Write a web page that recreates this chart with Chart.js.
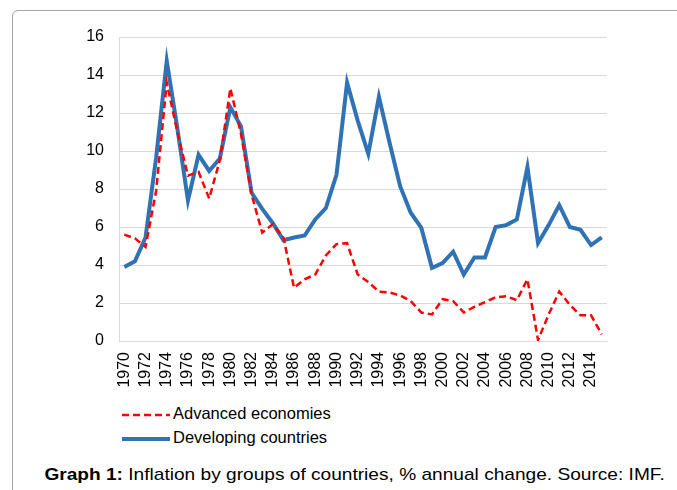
<!DOCTYPE html>
<html>
<head>
<meta charset="utf-8">
<script src="https://cdn.jsdelivr.net/npm/chart.js@4"></script>
<style>
  body { margin: 0; background: #fff; font-family: "Liberation Sans", Arial, sans-serif; }
  #wrap { position: relative; width: 677px; height: 490px; overflow: hidden; }
  #box { position: absolute; left: 12px; top: 10px; width: 700px; height: 520px;
         border: 1px solid #a6a6a6; border-radius: 6px; }
  #chart { position: absolute; left: 0; top: 0; }
  .legend { position: absolute; left: 122px; font-size: 16.5px; color: #000; }
  .legend div { height: 24px; line-height: 24px; white-space: nowrap; }
  .legend svg { vertical-align: middle; margin-right: 3px; }
  #caption { position: absolute; left: 0; width: 709px; top: 465px; text-align: center;
             font-size: 17px; color: #000; white-space: nowrap;
             transform: scaleX(1.124); transform-origin: 354px 0; }
</style>
</head>
<body>
<div id="wrap">
  <div id="box"></div>
  <canvas id="chart" width="677" height="400"></canvas>
  <div class="legend" style="top:401px">
    <div><svg width="48" height="6"><line x1="0" y1="3" x2="48" y2="3" stroke="#ff0000" stroke-width="2.5" stroke-dasharray="7,4"/></svg>Advanced economies</div>
    <div><svg width="48" height="6"><line x1="0" y1="3" x2="48" y2="3" stroke="#2f73b5" stroke-width="4"/></svg>Developing countries</div>
  </div>
  <div id="caption"><b>Graph 1:</b> Inflation by groups of countries, % annual change. Source: IMF.</div>
</div>
<script>
const years = [];
for (let y = 1970; y <= 2015; y++) years.push(String(y));

const advanced = [5.6,5.4,4.95,7.9,13.6,11.0,8.7,8.9,7.5,9.5,13.3,10.9,7.7,5.7,6.15,5.45,2.8,3.25,3.5,4.5,5.1,5.15,3.5,3.1,2.6,2.55,2.4,2.1,1.5,1.4,2.2,2.1,1.5,1.8,2.05,2.3,2.35,2.15,3.25,0.05,1.4,2.6,1.9,1.35,1.35,0.35];
const developing = [3.9,4.2,5.45,9.65,14.74,11.2,7.4,9.8,8.95,9.6,12.3,11.3,7.8,6.95,6.2,5.3,5.45,5.55,6.4,7.0,8.75,13.6,11.6,9.85,12.85,10.45,8.15,6.75,5.95,3.85,4.1,4.7,3.5,4.4,4.4,6.0,6.1,6.4,9.15,5.15,6.1,7.15,6.0,5.85,5.05,5.45];

const yTicks = [0,2,4,6,8,10,12,14,16];

new Chart(document.getElementById('chart'), {
  type: 'line',
  data: {
    labels: years,
    datasets: [
      {
        label: 'Advanced economies',
        data: advanced,
        borderColor: '#ff0000',
        borderWidth: 2.5,
        borderDash: [7, 4],
        pointRadius: 0,
        tension: 0,
        fill: false
      },
      {
        label: 'Developing countries',
        data: developing,
        borderColor: '#2f73b5',
        borderWidth: 4,
        pointRadius: 0,
        tension: 0,
        fill: false
      }
    ]
  },
  options: {
    responsive: false,
    animation: false,
    devicePixelRatio: 1,
    layout: { padding: { left: 0, top: 37, right: 70, bottom: 0 } },
    plugins: {
      legend: { display: false },
      tooltip: { enabled: false }
    },
    scales: {
      x: {
        offset: true,
        grid: { display: false, drawTicks: false },
        border: { color: '#d9d9d9', width: 1 },
        ticks: {
          autoSkip: false,
          minRotation: 90,
          maxRotation: 90,
          padding: 11,
          color: '#000',
          font: { family: '"Liberation Sans", Arial', size: 16 },
          callback: function(v, i) { return i % 2 === 0 ? years[i] : ''; }
        },
        afterFit: function(s) { s.height = 59; }
      },
      y: {
        min: 0,
        max: 16,
        afterBuildTicks: function(s) { s.ticks = yTicks.map(v => ({ value: v })); },
        grid: { color: '#d9d9d9', lineWidth: 1, drawTicks: false },
        border: { color: '#d9d9d9', width: 1 },
        ticks: {
          padding: 15,
          color: '#000',
          font: { family: '"Liberation Sans", Arial', size: 16 }
        },
        afterFit: function(s) { s.width = 119; }
      }
    }
  }
});
</script>
</body>
</html>
